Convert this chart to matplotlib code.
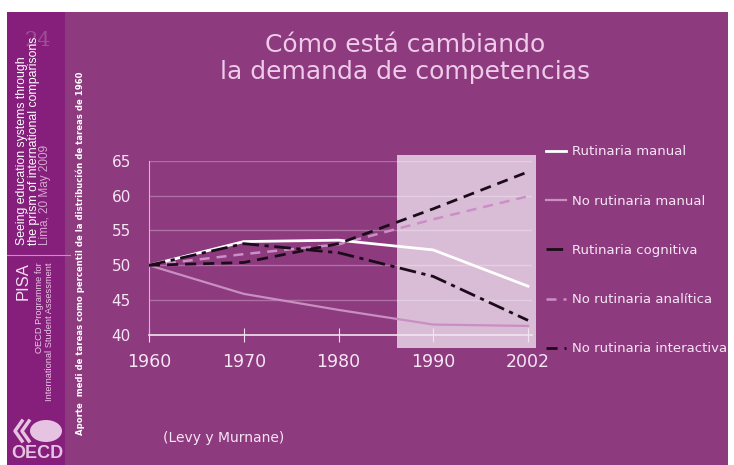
import matplotlib
matplotlib.use("Agg")
import matplotlib.pyplot as plt
from matplotlib.patches import Rectangle, Ellipse
from matplotlib.lines import Line2D

# data (percentile of 1960 task distribution)
years = ["1960", "1970", "1980", "1990", "2002"]
rutinaria_manual = [50.0, 53.4, 53.6, 52.2, 47.0]
no_rutinaria_manual = [50.0, 45.9, 43.6, 41.5, 41.3]
rutinaria_cognitiva = [50.0, 53.1, 51.8, 48.4, 42.1]
no_rutinaria_analitica = [50.0, 51.6, 53.0, 56.6, 59.9]
no_rutinaria_interactiva = [50.0, 50.4, 53.1, 58.1, 63.4]
y_ticks = [40, 45, 50, 55, 60, 65]

W, H = 734, 465
BG = "#8d3a7f"
SIDE = "#861f7b"
TXT = "#f6e6f4"


def fx(px):
    return px / W


def fy(py):
    return 1 - py / H


fig = plt.figure(figsize=(W / 100, H / 100), dpi=100, facecolor="white")

# slide background and sidebar
fig.patches.append(Rectangle((fx(7), 0), fx(728) - fx(7), fy(12), transform=fig.transFigure,
                             facecolor=BG, edgecolor="none", zorder=-10))
fig.patches.append(Rectangle((fx(7), 0), fx(65) - fx(7), fy(12), transform=fig.transFigure,
                             facecolor=SIDE, edgecolor="none", zorder=-9))

# sidebar texts
side_font = ["Liberation Sans", "DejaVu Sans"]
fig.text(fx(38), fy(40), "24", rotation=0, fontsize=15, family="DejaVu Serif",
         color="#b070a8", alpha=0.6, ha="center", va="center")
fig.text(fx(22), fy(245), "Seeing education systems through", rotation=90, fontsize=8.8,
         family=side_font, color="white", ha="center", va="bottom")
fig.text(fx(34), fy(245), "the prism of international comparisons", rotation=90, fontsize=8.8,
         family=side_font, color="white", ha="center", va="bottom")
fig.text(fx(45), fy(245), "Lima, 20 May 2009", rotation=90, fontsize=8.5,
         family=side_font, color="#d6a6cf", ha="center", va="bottom")
fig.add_artist(Line2D([fx(7), fx(70)], [fy(255), fy(255)], transform=fig.transFigure,
                      color="#c98fc2", lw=0.8))
fig.text(fx(23), fy(262), "PISA", rotation=90, fontsize=12,
         family=side_font, color="#f3dff0", ha="center", va="top")
fig.text(fx(40), fy(262), "OECD Programme for", rotation=90, fontsize=6.7,
         family=side_font, color="#e8c8e4", ha="center", va="top")
fig.text(fx(50), fy(262), "International Student Assessment", rotation=90, fontsize=6.7,
         family=side_font, color="#e8c8e4", ha="center", va="top")

# OECD logo
logo = "#e6c3e2"
fig.patches.append(Ellipse((fx(46), fy(431)), fx(32), 22 / H, transform=fig.transFigure,
                           facecolor=logo, edgecolor="none"))
for dx in (0, 7):
    fig.add_artist(Line2D([fx(22 + dx), fx(15 + dx), fx(22 + dx)], [fy(421), fy(431), fy(441)],
                          transform=fig.transFigure, color=logo, lw=2.5))
fig.text(fx(37), fy(453), "OECD", fontsize=13, fontweight="bold", family=side_font,
         color=logo, ha="center", va="center")

# title
fig.text(fx(405), fy(45), "Cómo está cambiando", fontsize=18, color="#eecbe9",
         ha="center", va="center")
fig.text(fx(405), fy(72), "la demanda de competencias", fontsize=18, color="#eecbe9",
         ha="center", va="center")

# y axis label and source
fig.text(fx(80), fy(253), "Aporte  medi de tareas como percentil de la distribución de tareas de 1960",
         rotation=90, fontsize=6.1, fontweight="bold", color="white", ha="center", va="center")
fig.text(fx(163), fy(438), "(Levy y Murnane)", fontsize=10, color=TXT, ha="left", va="center")

# chart
ax = fig.add_axes([fx(149), fy(335), 382.8 / W, 174.3 / H])
ax.patch.set_alpha(0)
x = list(range(len(years)))

ax.add_patch(Rectangle((2.62, 38.2), 1.46, 27.6, facecolor="#d9bdd6", edgecolor="none",
                       clip_on=False, zorder=0))

ax.plot(x, rutinaria_manual, color="white", lw=2, label="Rutinaria manual", zorder=4)
ax.plot(x, no_rutinaria_manual, color="#c98ec2", lw=1.6, label="No rutinaria manual", zorder=3)
ax.plot(x, rutinaria_cognitiva, color="#1c0c1a", lw=2, dashes=(6, 2, 1.5, 2),
        label="Rutinaria cognitiva", zorder=4)
ax.plot(x, no_rutinaria_analitica, color="#cc8ec6", lw=1.8, dashes=(4, 2.8),
        label="No rutinaria analítica", zorder=3)
ax.plot(x, no_rutinaria_interactiva, color="#1c0c1a", lw=2, dashes=(4, 2.5),
        label="No rutinaria interactiva", zorder=4)

ax.set_xlim(0, 4.04)
ax.set_ylim(40, 65)
ax.set_xticks(x)
ax.set_xticklabels(years)
ax.set_yticks(y_ticks)
ax.grid(axis="y", color="white", alpha=0.28, lw=1)
ax.set_axisbelow(True)
for s in ("top", "right"):
    ax.spines[s].set_visible(False)
ax.spines["left"].set_color("#d9b3d3")
ax.spines["bottom"].set_color("#f3e3f1")
ax.spines["bottom"].set_linewidth(1.2)
ax.tick_params(axis="y", length=0, pad=13, labelsize=11, labelcolor=TXT)
ax.tick_params(axis="x", direction="inout", length=10, color="#f3e3f1", pad=8,
               labelsize=12.5, labelcolor=TXT)

leg = ax.legend(loc="upper left", bbox_to_anchor=(fx(541), fy(140)), bbox_transform=fig.transFigure,
                frameon=False, fontsize=9.5, handlelength=1.5, handletextpad=0.45,
                labelspacing=2.75, borderaxespad=0)
for t in leg.get_texts():
    t.set_color(TXT)

fig.savefig("out.png", dpi=100, facecolor="white")
